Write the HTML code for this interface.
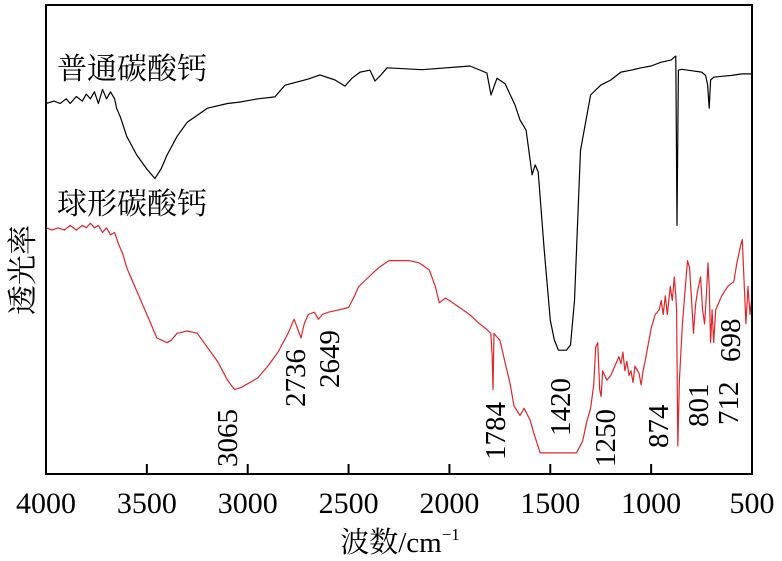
<!DOCTYPE html>
<html><head><meta charset="utf-8">
<style>
body{margin:0;background:#fff;}
svg{display:block;font-family:"Liberation Serif","Noto Serif CJK SC",serif;}
</style></head>
<body>
<svg id="chart" width="782" height="561" viewBox="0 0 782 561">
<g id="plot"></g>
<rect x="46" y="5" width="706" height="469" fill="none" stroke="#000" stroke-width="2"/>
<text x="57" y="79" font-size="30" font-family="Noto Serif CJK SC, serif">普通碳酸钙</text>
<text x="57" y="214" font-size="30" font-family="Noto Serif CJK SC, serif">球形碳酸钙</text>
<text transform="translate(33,270) rotate(-90)" text-anchor="middle" font-size="30" font-family="Noto Serif CJK SC, serif">透光率</text>
<text x="400" y="552" text-anchor="middle" font-size="29"><tspan font-family="Noto Serif CJK SC, serif">波数</tspan>/cm<tspan font-size="17" dy="-12">−1</tspan></text>
</svg>
<script>
const xTicks=[4000,3500,3000,2500,2000,1500,1000,500];
const blackWn=[4000,3960,3930,3900,3880,3850,3820,3800,3780,3760,3740,3720,3700,3680,3660,3650,3630,3600,3550,3500,3460,3430,3400,3350,3300,3200,3100,3040,2950,2865,2815,2700,2642,2567,2518,2483,2443,2394,2369,2339,2309,2136,1898,1814,1794,1764,1724,1675,1650,1620,1600,1590,1575,1560,1530,1500,1480,1460,1440,1420,1400,1380,1360,1350,1300,1250,1200,1150,1100,1050,1000,950,900,885,878,872,865,850,800,750,730,720,712,705,690,650,600,550,500];
const blackT=[79,79.5,79,80,79,80.5,79.5,81,80,81.5,79,82,80,81.5,80,78,76,72,68,65,63,65,68,72,75,78,79,79.3,80,80.4,82.9,84.2,85.1,84,82.7,84.4,85.7,86.1,83.8,85.1,86.6,86.2,87,85.5,80.8,84.4,83.2,78.7,75.5,73.3,67,63.8,65.9,64.4,47.8,32.8,28.6,26.4,26.4,26.4,27.5,37,58.4,69,80.8,82.9,84,85.7,86.1,86.6,87,87.8,88.3,88.9,89.1,53,86.1,86.3,86,85.7,85,83,78,84,84.6,84.8,85,85.3,85.3];
const redWn=[4000,3970,3940,3910,3880,3850,3820,3800,3780,3760,3740,3720,3700,3680,3660,3640,3620,3600,3550,3500,3450,3400,3380,3350,3300,3250,3200,3150,3100,3065,3030,2950,2900,2850,2800,2770,2736,2720,2700,2670,2649,2630,2600,2550,2500,2470,2450,2400,2350,2300,2250,2200,2150,2100,2070,2050,2020,2000,1950,1900,1850,1820,1795,1788,1784,1779,1770,1750,1720,1700,1680,1650,1630,1600,1580,1550,1500,1450,1420,1370,1340,1320,1300,1285,1275,1265,1255,1248,1240,1220,1200,1180,1160,1150,1140,1130,1120,1110,1100,1090,1080,1060,1050,1040,1030,1000,980,960,950,940,930,920,905,895,885,878,874,868,860,845,830,820,810,801,790,780,770,755,745,735,725,718,712,705,698,690,680,650,620,590,575,565,555,548,540,530,520,510,500];
const redT=[52.5,52,52.5,52,53,52,53,52.5,53.5,52.5,53,51.5,52.5,51,51.5,49,47,44,39,34,29,28,28.5,30,30.5,30,27,24,20,18,18.5,20.5,23,26,30,33,29,32,34,34.5,33,34,34.5,35,35.5,38,40,42,44,45.5,45.5,45.5,45,43.5,40,36.5,37.5,37,35.5,34,32,31,30,25,18,30,29.5,28.5,23,19.5,14.5,12.5,14,11.5,8.5,4.5,4.5,4.5,4.5,4.5,7,11,14,19,27,28,18,16.5,22,20,21,23,25,23.5,26,22,24,21,22,19.5,23,21.5,19,22,24,31,34,35,37,34,38,34,40,37,42,38,35,6,20,32,40,45.5,44,38,30,36,39,42,35,32,39,45,40,28,35,28,35,38,40,41,45,47,49,50,42,32,40,34,38,37.5,36.5];
const peakLabels=["3065","2736","2649","1784","1420","1250","874","801","712","698"];
const labelAnchors=[[237,467],[305,407],[339,388],[505,460],[570,436],[615,467],[668,448],[708,427],[738,425],[740,362]];
const X0=46,X1=752,Y0=474,Y1=5;
function xs(w){return X0+(4000-w)*(X1-X0)/3500;}
function ys(t){return Y0-t*(Y0-Y1)/100;}
const NS="http://www.w3.org/2000/svg";
const g=document.getElementById('plot');
function mk(tag,attrs){const e=document.createElementNS(NS,tag);for(const k in attrs)e.setAttribute(k,attrs[k]);return e;}
function line(wn,tv,color,name){
  let d="";for(let i=0;i<wn.length;i++)d+=(i?"L":"M")+xs(wn[i]).toFixed(1)+","+ys(tv[i]).toFixed(1);
  const p=mk('path',{d:d,fill:"none",stroke:color,"stroke-width":"1.2","stroke-linejoin":"round"});
  
  
  g.appendChild(p);
}
line(blackWn,blackT,"#000","series-ordinary-caco3");
line(redWn,redT,"#e0262b","series-spherical-caco3");
xTicks.forEach(v=>{
  const x=xs(v);
  const t=mk('line',{x1:x,x2:x,y1:Y0,y2:Y0-10,stroke:"#000","stroke-width":"2"});
  
  
  g.appendChild(t);
  const tx=mk('text',{x:x,y:513,"text-anchor":"middle","font-size":"30"});
  tx.textContent=v;
  
  
  g.appendChild(tx);
});
peakLabels.forEach((l,i)=>{
  const a=labelAnchors[i];
  const tx=mk('text',{transform:"translate("+a[0]+","+a[1]+") rotate(-90)","font-size":"29"});
  tx.textContent=l;
  
  
  g.appendChild(tx);
});
</script>
</body></html>
